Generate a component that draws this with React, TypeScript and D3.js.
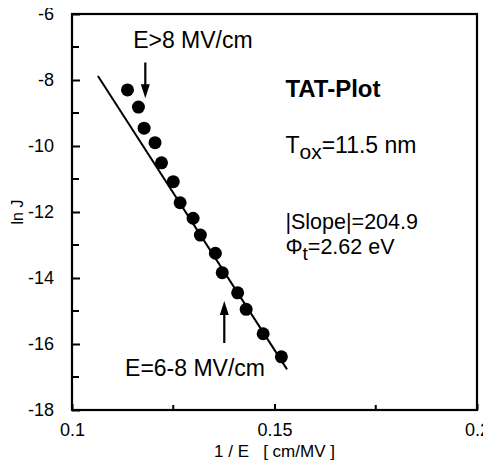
import React, { useEffect, useRef } from 'react';
import * as d3 from 'd3';

// 1/E [cm/MV] and ln J
const invField = [
  0.1137, 0.1164, 0.1178, 0.1205, 0.1221, 0.125, 0.1267, 0.1299, 0.1317,
  0.1354, 0.1371, 0.1409, 0.143, 0.1472, 0.1517,
];
const lnJ = [
  -8.3, -8.82, -9.46, -9.9, -10.51, -11.08, -11.72, -12.19, -12.7, -13.25,
  -13.84, -14.45, -14.95, -15.69, -16.39,
];
// fitted line end points
const fitX = [0.1064, 0.1531];
const fitY = [-7.88, -16.77];

const xTicks = [0.1, 0.15, 0.2];
const xMinorTicks = [0.125, 0.175];
const yTicks = [-6, -8, -10, -12, -14, -16, -18];
const yMinorTicks = [-7, -9, -11, -13, -15, -17];

const FONT = "'Liberation Sans', Arial, Helvetica, sans-serif";

export default function App() {
  const svgRef = useRef<SVGSVGElement>(null);

  const width = 491;
  const height = 464;
  const margin = { top: 14, right: 14, bottom: 54, left: 72 };

  useEffect(() => {
    const svg = d3.select(svgRef.current);
    svg.selectAll('*').remove();
    svg.attr('width', width).attr('height', height);

    const x = d3
      .scaleLinear()
      .domain([0.1, 0.2])
      .range([margin.left, width - margin.right]);
    const y = d3
      .scaleLinear()
      .domain([-18, -6])
      .range([height - margin.bottom, margin.top]);

    svg.append('rect').attr('width', width).attr('height', height).attr('fill', '#fff');

    // fit line
    svg
      .append('line')
      .attr('x1', x(fitX[0]))
      .attr('y1', y(fitY[0]))
      .attr('x2', x(fitX[1]))
      .attr('y2', y(fitY[1]))
      .attr('stroke', '#000')
      .attr('stroke-width', 2);

    // points
    svg
      .selectAll('circle')
      .data(invField)
      .enter()
      .append('circle')
      .attr('cx', (d) => x(d))
      .attr('cy', (d, i) => y(lnJ[i]))
      .attr('r', 6.5)
      .attr('fill', '#000');

    // frame
    svg
      .append('rect')
      .attr('x', x(0.1))
      .attr('y', y(-6))
      .attr('width', x(0.2) - x(0.1))
      .attr('height', y(-18) - y(-6))
      .attr('fill', 'none')
      .attr('stroke', '#000')
      .attr('stroke-width', 2.2);

    // y ticks (inward)
    const yAxis = svg
      .append('g')
      .attr('transform', `translate(${x(0.1)},0)`)
      .call(
        d3
          .axisLeft(y)
          .tickValues(yTicks)
          .tickSizeInner(-8)
          .tickSizeOuter(0)
          .tickPadding(18)
          .tickFormat(d3.format('d'))
      );
    yAxis.select('.domain').remove();
    yAxis.selectAll('line').attr('stroke-width', 2);
    yAxis
      .selectAll('text')
      .attr('font-size', 18)
      .attr('font-family', FONT)
      .attr('fill', '#000')
      .text((d: any) => String(d));
    svg
      .append('g')
      .selectAll('line')
      .data(yMinorTicks)
      .enter()
      .append('line')
      .attr('x1', x(0.1))
      .attr('x2', x(0.1) + 7)
      .attr('y1', (d) => y(d))
      .attr('y2', (d) => y(d))
      .attr('stroke', '#000')
      .attr('stroke-width', 2);

    // x ticks (inward)
    const xAxis = svg
      .append('g')
      .attr('transform', `translate(0,${y(-18)})`)
      .call(
        d3
          .axisBottom(x)
          .tickValues(xTicks)
          .tickSizeInner(-6)
          .tickSizeOuter(0)
          .tickPadding(13)
          .tickFormat((d: any) => String(d))
      );
    xAxis.select('.domain').remove();
    xAxis.selectAll('line').attr('stroke-width', 2);
    xAxis
      .selectAll('text')
      .attr('font-size', 18)
      .attr('font-family', FONT)
      .attr('fill', '#000');
    svg
      .append('g')
      .selectAll('line')
      .data(xMinorTicks)
      .enter()
      .append('line')
      .attr('x1', (d) => x(d))
      .attr('x2', (d) => x(d))
      .attr('y1', y(-18))
      .attr('y2', y(-18) - 5)
      .attr('stroke', '#000')
      .attr('stroke-width', 2);

    // axis titles
    svg
      .append('text')
      .attr('x', (x(0.1) + x(0.2)) / 2)
      .attr('y', height - 7)
      .attr('text-anchor', 'middle')
      .attr('font-size', 17)
      .attr('font-family', FONT)
      .style('white-space', 'pre')
      .text('1 / E   [ cm/MV ]');

    svg
      .append('text')
      .attr('transform', `translate(23,${(y(-6) + y(-18)) / 2}) rotate(-90)`)
      .attr('text-anchor', 'middle')
      .attr('font-size', 16)
      .attr('font-family', FONT)
      .text('ln J');

    // arrows
    const arrow = (xv: number, yFrom: number, yTo: number) => {
      const x0 = x(xv);
      const y0 = y(yFrom);
      const y1 = y(yTo);
      const dir = y1 > y0 ? 1 : -1;
      svg
        .append('line')
        .attr('x1', x0)
        .attr('x2', x0)
        .attr('y1', y0)
        .attr('y2', y1 - dir * 12)
        .attr('stroke', '#000')
        .attr('stroke-width', 2.2);
      svg
        .append('path')
        .attr(
          'd',
          `M${x0 - 4.5},${y1 - dir * 14}L${x0 + 4.5},${y1 - dir * 14}L${x0},${y1}Z`
        )
        .attr('fill', '#000');
    };
    arrow(0.1181, -7.47, -8.55);
    arrow(0.1376, -15.97, -14.7);

    const label = (xv: number, yv: number, size = 23) =>
      svg
        .append('text')
        .attr('x', x(xv))
        .attr('y', y(yv))
        .attr('font-size', size)
        .attr('font-family', FONT)
        .attr('fill', '#000');

    label(0.1151, -7.03).text('E>8 MV/cm');
    label(0.1131, -16.97).text('E=6-8 MV/cm');
    label(0.1527, -8.52, 24).attr('font-weight', 'bold').text('TAT-Plot');

    const tox = label(0.1527, -10.21);
    tox.append('tspan').text('T');
    tox.append('tspan').attr('dy', 6).attr('font-size', 21).text('ox');
    tox.append('tspan').attr('dy', -6).text('=11.5 nm');

    label(0.1527, -12.52, 21.5).text('|Slope|=204.9');

    const phi = label(0.1527, -13.27, 21.5);
    phi.append('tspan').text('Φ');
    phi.append('tspan').attr('dy', 6).attr('font-size', 19).text('t');
    phi.append('tspan').attr('dy', -6).text('=2.62 eV');
  }, []);

  return (
    <div style={{ margin: -8 }}>
      <svg ref={svgRef}></svg>
    </div>
  );
}
